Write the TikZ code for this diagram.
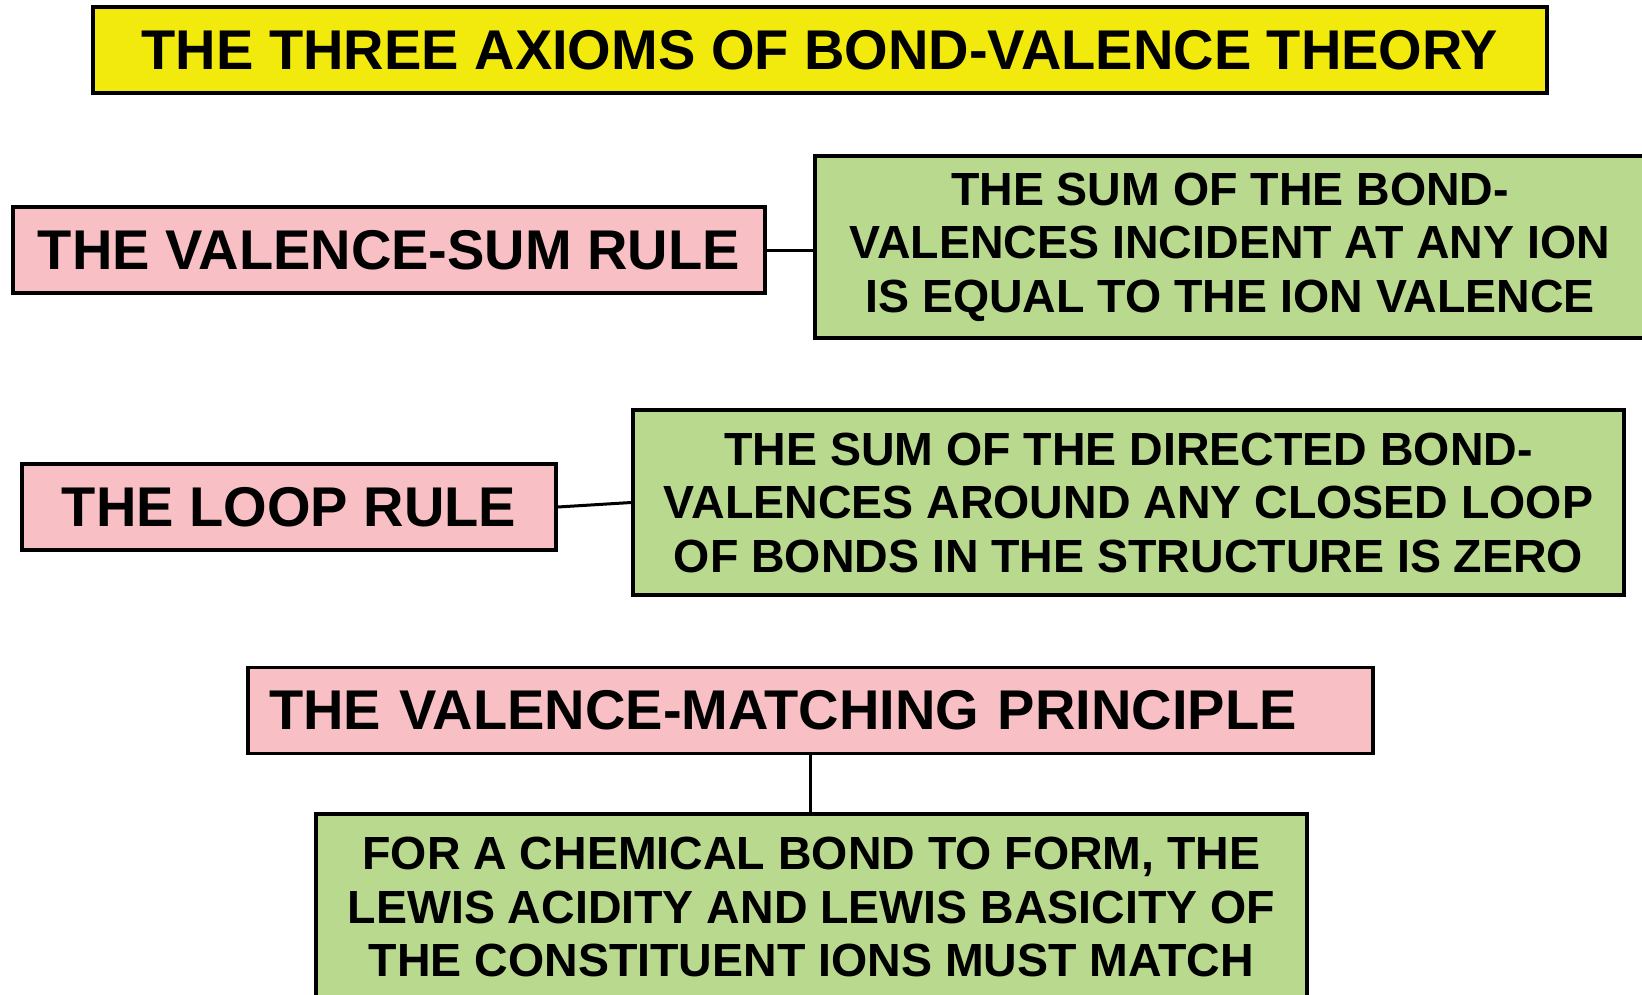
\documentclass[tikz,border=0pt]{standalone}
\usepackage{fontspec}
\setmainfont{Liberation Sans}
\usepackage{xcolor}
\usepackage{tikz}

\definecolor{titleyellow}{RGB}{242,234,12}
\definecolor{rulepink}{RGB}{248,191,196}
\definecolor{textgreen}{RGB}{185,217,142}

\begin{document}
\begin{tikzpicture}[x=1pt, y=-1pt, every node/.style={font=\bfseries}]
  \tikzstyle{header} = [rectangle, draw=black, line width=3.5pt, inner sep=0pt,
                        minimum height=86pt, font=\bfseries\fontsize{56}{60}\selectfont]
  \tikzstyle{statement} = [rectangle, draw=black, line width=3.5pt, fill=textgreen, inner sep=0pt,
                           align=center, font=\bfseries\fontsize{46.5}{53.5}\selectfont]
  \tikzstyle{link} = [line width=3pt]
  \useasboundingbox (0,0) rectangle (1642,994);
  \fill[white] (0,0) rectangle (1642,994);
  % title
  \node (title) [header, fill=titleyellow, minimum width=1454pt] at (820,50)
    {THE THREE AXIOMS OF BOND-VALENCE THEORY};
  % first axiom
  \node (vs) [header, fill=rulepink, minimum width=752pt] at (389,250) {THE VALENCE-SUM RULE};
  \node (g1) [statement, minimum width=830pt, minimum height=182pt] at (1230,247)
    {THE SUM OF THE BOND-\\VALENCES INCIDENT AT ANY ION\\IS EQUAL TO THE ION VALENCE};
  % second axiom
  \node (loop) [header, fill=rulepink, minimum width=534pt] at (289,507) {THE LOOP RULE};
  \node (g2) [statement, minimum width=991pt, minimum height=185pt] at (1128.5,502.5)
    {THE SUM OF THE DIRECTED BOND-\\VALENCES AROUND ANY CLOSED LOOP\\OF BONDS IN THE STRUCTURE IS ZERO};
  % third axiom
  \node (vm) [header, fill=rulepink, minimum width=1125pt, text width=1083pt, align=left,
              inner xsep=21pt] at (810.5,710.5) {THE VALENCE-MATCHING PRINCIPLE};
  \node (g3) [statement, minimum width=991pt, minimum height=186pt] at (811.5,907)
    {FOR A CHEMICAL BOND TO FORM, THE\\LEWIS ACIDITY AND LEWIS BASICITY OF\\THE CONSTITUENT IONS MUST MATCH};
  \draw [link] (vs.east) -- (vs.east -| g1.west);
  \draw [link] (loop.east) -- (g2.west);
  \draw [link] (vm.south) -- (vm.south |- g3.north);
\end{tikzpicture}
\end{document}
